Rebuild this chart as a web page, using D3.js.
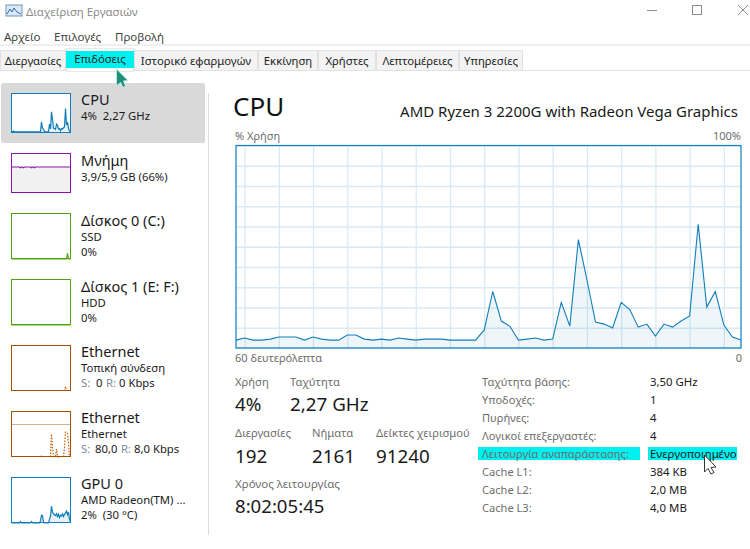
<!DOCTYPE html>
<html>
<head>
<meta charset="utf-8">
<script src="https://cdn.jsdelivr.net/npm/d3@7"></script>
<style>
html, body { margin: 0; padding: 0; background: #fff; overflow: hidden; }
svg { display: block; }
text { font-family: "Noto Sans", "Open Sans", sans-serif; }
</style>
</head>
<body>
<svg id="chart" width="750" height="549"></svg>
<script>
// main cpu graph, % per second, oldest first
var cpuValues = [3.9,4.9,3.9,3.9,4.4,5.4,5.4,5.4,3.9,5.4,4.4,3.9,3.9,6.4,6.4,4.4,3.9,4.4,3.9,4.9,
  4.4,3.9,4.4,4.4,4.4,3.9,3.9,3.9,3.9,8.9,27.9,13.3,10.7,3.9,4.4,4.9,3.9,4.4,22.5,10.8,
  53.5,33.7,12.8,11.8,9.9,22.5,19,10.3,11.8,5.9,11.8,10.3,13.3,15.8,61.1,20.2,27.9,11.3,5.4,3.9];

// side panel thumbnails
var thumbCpu = [3,3,5,3,3,3,3,3,3,3,3,3,3,3,3,3,3,3,3,3,3,3,3,3,3,3,3,3,3,3,28,12,10,3,3,3,3,3,
  22,10,53,33,12,11,9,22,19,10,11,5,11,10,13,15,61,20,27,11,5,3];
var thumbMem = [65,65,65,65,65,65,65,65,65,63,65,65,63,65,65,65,65,65,65,65,63,65,65,63,65,65,65,65,65,65,
  65,65,65,65,65,65,65,65,65,65,65,65,65,65,65,65,65,65,65,65,65,65,65,65,65,65,65,65,65,65];
var thumbDisk0 = [0,0,0,0,0,0,0,0,0,0,0,0,0,0,0,0,0,0,0,0,0,0,0,0,0,0,0,0,0,0,
  0,0,0,0,0,0,0,0,0,0,0,0,0,0,0,0,0,0,0,0,0,0,0,0,0,0,12,0,0,0];
var thumbGpu = [0,0,0,0,0,0,0,0,0,3,0,0,0,0,0,0,0,0,0,0,3,0,0,0,0,0,0,0,0,5,
  17,16,2,0,0,0,0,0,8,15,37,24,20,18,16,20,14,19,12,17,15,20,14,19,22,26,18,24,8,2];
var thumbEth2Send = [0,0,0,0,0,0,0,0,0,0,0,0,0,0,0,0,0,0,0,0,0,0,0,0,0,0,0,0,0,0,
  2,0,0,0,0,0,0,0,0,0,50,20,3,0,0,17,3,0,2,0,0,0,0,20,54,54,50,30,0,0];
var thumbEth1Send = [0,0,0,0,0,0,0,0,0,0,0,0,0,0,0,0,0,0,0,0,0,0,0,0,0,0,0,0,0,0,
  0,0,0,0,0,0,0,0,0,0,0,0,0,0,0,0,0,0,0,0,0,0,0,0,10,0,0,0,0,0];
var thumbZero = d3.range(60).map(function() { return 0; });

var yTicks = d3.range(0, 101, 10);
var xGridSeconds = [58, 54, 50, 46, 42, 38, 34, 30, 26, 22, 18, 14, 10, 6, 2];

var menuItems = ["Αρχείο", "Επιλογές", "Προβολή"];
var menuX = [4, 54, 115];
var tabNames = ["Διεργασίες", "Επιδόσεις", "Ιστορικό εφαρμογών", "Εκκίνηση", "Χρήστες", "Λεπτομέρειες", "Υπηρεσίες"];
var tabEdges = [0, 66, 134, 258, 318, 376, 459, 523];

var statsTop = [["Χρήση", "4%", 235], ["Ταχύτητα", "2,27 GHz", 290]];
var statsMid = [["Διεργασίες", "192", 235], ["Νήματα", "2161", 312], ["Δείκτες χειρισμού", "91240", 376]];
var specLabels = ["Ταχύτητα βάσης:", "Υποδοχές:", "Πυρήνες:", "Λογικοί επεξεργαστές:", "Λειτουργία αναπαράστασης:", "Cache L1:", "Cache L2:", "Cache L3:"];
var specValues = ["3,50 GHz", "1", "4", "4", "Ενεργοποιημένο", "384 KB", "2,0 MB", "4,0 MB"];

var blue = "#117dbb", purple = "#8b12ae", green = "#4da60c", brown = "#a74f01";
var grey = "#6d6d6d", dark = "#1a1a1a";

var svg = d3.select("#chart");

function label(x, y, s, size, color, anchor) {
  return svg.append("text").attr("x", x).attr("y", y).attr("font-size", size)
    .attr("fill", color || dark).attr("text-anchor", anchor || "start").text(s);
}

// title bar
var ic = svg.append("g");
ic.append("rect").attr("x", 6).attr("y", 5).attr("width", 16).attr("height", 11).attr("fill", "#dce9f5").attr("stroke", "#6f93b8");
ic.append("path").attr("d", "M7 14L10 9L12 12L14 8L17 12L21 14").attr("fill", "none").attr("stroke", "#2a6fb0");
label(26, 16, "Διαχείριση Εργασιών", 11.4, "#8a8a8a");
svg.append("path").attr("d", "M647 10.5H657").attr("stroke", "#8c8c8c");
svg.append("rect").attr("x", 692.5).attr("y", 5.5).attr("width", 9).attr("height", 9).attr("fill", "none").attr("stroke", "#8c8c8c");
svg.append("path").attr("d", "M738 5L748 15M748 5L738 15").attr("stroke", "#8c8c8c");

// menu
menuItems.forEach(function(m, i) { label(menuX[i], 41, m, 11.5, "#444"); });
svg.append("rect").attr("x", 0).attr("y", 44).attr("width", 750).attr("height", 2).attr("fill", "#efefef");

// tabs
svg.append("path").attr("d", "M0 70.5H750").attr("stroke", "#e4e4e4");
tabNames.forEach(function(t, i) {
  var x0 = tabEdges[i], x1 = tabEdges[i + 1], sel = i == 1;
  if (sel) {
    svg.append("rect").attr("x", x0 + 0.5).attr("y", 48.5).attr("width", x1 - x0 - 1).attr("height", 23)
      .attr("fill", "#fff").attr("stroke", "#e8e8e8");
    svg.append("rect").attr("x", x0).attr("y", 51).attr("width", x1 - x0).attr("height", 17).attr("fill", "#00f0f0");
  } else {
    svg.append("rect").attr("x", x0 + 0.5).attr("y", 50.5).attr("width", x1 - x0 - 1).attr("height", 20)
      .attr("fill", "#f3f3f3").attr("stroke", "#e1e1e1");
  }
  label((x0 + x1) / 2, sel ? 63 : 65, t, 11.3, "#222", "middle");
});

// side panel
svg.append("rect").attr("x", 1).attr("y", 83).attr("width", 204).attr("height", 60).attr("rx", 2).attr("fill", "#d9d9d9");
svg.append("rect").attr("x", 208).attr("y", 93).attr("width", 1).attr("height", 442).attr("fill", "#dcdcdc");

// cursor over the tabs
svg.append("path").attr("d", "M116.5 69L116.5 86L120.5 82.5L123 87.5L125.5 86L123.5 81L128 80.5Z")
  .attr("fill", "#1f8f7a").attr("stroke", "#b9ecdd");

var thumbX = d3.scaleLinear().domain([0, 59]).range([11.5, 70.5]);

function thumb(top, h, color, values, maxV, dashed, fillColor) {
  var y = d3.scaleLinear().domain([0, maxV]).range([top + h, top]);
  svg.append("rect").attr("x", 11.5).attr("y", top + 0.5).attr("width", 59).attr("height", h - 1)
    .attr("fill", "#fff");
  var area = d3.area().x(function(d, i) { return thumbX(i); }).y0(top + h).y1(function(d) { return y(d); });
  var line = d3.line().x(function(d, i) { return thumbX(i); }).y(function(d) { return y(d); });
  if (!dashed) {
    svg.append("path").datum(values).attr("d", area).attr("fill", fillColor || color).attr("fill-opacity", fillColor ? 1 : 0.1);
    svg.append("path").datum(values).attr("d", line).attr("fill", "none").attr("stroke", color).attr("stroke-width", 1.2);
  } else {
    // only the peaks, the flat part stays hidden behind the border
    line.defined(function(d, i) { return d > 0 || values[i - 1] > 0 || values[i + 1] > 0; });
    svg.append("path").datum(values).attr("d", line).attr("fill", "none").attr("stroke", "#c8691a")
      .attr("stroke-width", 1.3).attr("stroke-dasharray", "1.5,1.5");
  }
  svg.append("rect").attr("x", 11.5).attr("y", top + 0.5).attr("width", 59).attr("height", h - 1)
    .attr("fill", "none").attr("stroke", color);
}

thumb(93, 40, blue, thumbCpu, 100);
thumb(153, 40, purple, thumbMem, 100, false, "#f2f1f2");
thumb(213, 46, green, thumbDisk0, 100);
thumb(279, 46, green, thumbZero, 100);
thumb(345, 46, brown, thumbEth1Send, 100, true);
thumb(411, 46, brown, thumbEth2Send, 100, true);
svg.append("path").attr("d", "M12 424.5H70").attr("stroke", brown).attr("stroke-opacity", 0.45);
thumb(477, 46, blue, thumbGpu, 100);

var sideRows = [
  [81, 105, "CPU", ["4%  2,27 GHz"]],
  [81, 166, "Μνήμη", ["3,9/5,9 GB (66%)"]],
  [81, 226, "Δίσκος 0 (C:)", ["SSD", "0%"]],
  [81, 292, "Δίσκος 1 (E: F:)", ["HDD", "0%"]],
  [81, 357, "Ethernet", ["Τοπική σύνδεση"]],
  [81, 423, "Ethernet", ["Ethernet"]],
  [81, 489, "GPU 0", ["AMD Radeon(TM) ...", "2%  (30 °C)"]]
];
sideRows.forEach(function(r) {
  label(r[0], r[1], r[2], 14.5, dark);
  r[3].forEach(function(s, i) {
    label(r[0], r[1] + 15 + i * 15, s, 11.3, dark).style("white-space", "pre");
  });
});
[[351, "S:", "0", "R:", "0 Kbps", 96, 106, 119], [417, "S:", "80,0", "R:", "8,0 Kbps", 95, 121, 134]].forEach(function(r) {
  var y = r[0] + 36;
  label(81, y, r[1], 11.3, "#7a8a99");
  label(r[5], y, r[2], 11.3, dark);
  label(r[6], y, r[3], 11.3, "#7a8a99");
  label(r[7], y, r[4], 11.3, dark);
});

// heading
label(233, 116, "CPU", 26, "#111");
label(738, 117, "AMD Ryzen 3 2200G with Radeon Vega Graphics", 15, dark, "end");
label(235, 140, "% Χρήση", 11, grey);
label(741, 140, "100%", 11, grey, "end");

// main graph
var x = d3.scaleLinear().domain([59, 0]).range([236, 741]);
var y = d3.scaleLinear().domain([0, 100]).range([348, 145.5]);
var graph = svg.append("g");
graph.append("g").attr("transform", "translate(0,348)")
  .call(d3.axisBottom(x).tickValues(xGridSeconds).tickSize(-202.5).tickFormat(""))
  .call(function(g) { g.select(".domain").remove(); g.selectAll("line").attr("stroke", "#d9eaf4").attr("stroke-width", 1.3); });
graph.append("g").attr("transform", "translate(236,0)")
  .call(d3.axisLeft(y).tickValues(yTicks).tickSize(-505).tickFormat(""))
  .call(function(g) { g.select(".domain").remove(); g.selectAll("line").attr("stroke", "#d9eaf4").attr("stroke-width", 1.3); });

var sx = function(d, i) { return x(59 - i); };
graph.append("path").datum(cpuValues).attr("fill", blue).attr("fill-opacity", 0.07)
  .attr("d", d3.area().x(sx).y0(y(0)).y1(function(d) { return y(d); }));
graph.append("path").datum(cpuValues).attr("fill", "none").attr("stroke", blue).attr("stroke-width", 1.1)
  .attr("d", d3.line().x(sx).y(function(d) { return y(d); }));
graph.append("rect").attr("x", 236).attr("y", 145.5).attr("width", 505).attr("height", 202.5)
  .attr("fill", "none").attr("stroke", blue).attr("stroke-width", 1.2);

label(235, 362, "60 δευτερόλεπτα", 11, grey);
label(742, 362, "0", 11, grey, "end");

// stats
statsTop.forEach(function(s) {
  label(s[2], 386, s[0], 11.2, grey);
  label(s[2], 411, s[1], 18.8, dark);
});
statsMid.forEach(function(s) {
  label(s[2], 437, s[0], 11.2, grey);
  label(s[2], 463, s[1], 18.8, dark);
});
label(235, 488, "Χρόνος λειτουργίας", 11.5, grey);
label(235, 513, "8:02:05:45", 18.6, dark);

// spec table
svg.append("rect").attr("x", 478).attr("y", 447).attr("width", 162).attr("height", 13).attr("fill", "#00f0f0");
svg.append("rect").attr("x", 648).attr("y", 447).attr("width", 89).attr("height", 13).attr("fill", "#00f0f0");
specLabels.forEach(function(s, i) { label(482, 386 + i * 18, s, 11.1, grey); });
specValues.forEach(function(s, i) { label(650, 386 + i * 18, s, 11.4, dark); });

// mouse pointer
svg.append("path").attr("d", "M704.5 455L704.5 472L708 468.5L711 474L714 472.5L711 467.5L716 467Z")
  .attr("fill", "#fff").attr("stroke", "#333");
</script>
</body>
</html>
